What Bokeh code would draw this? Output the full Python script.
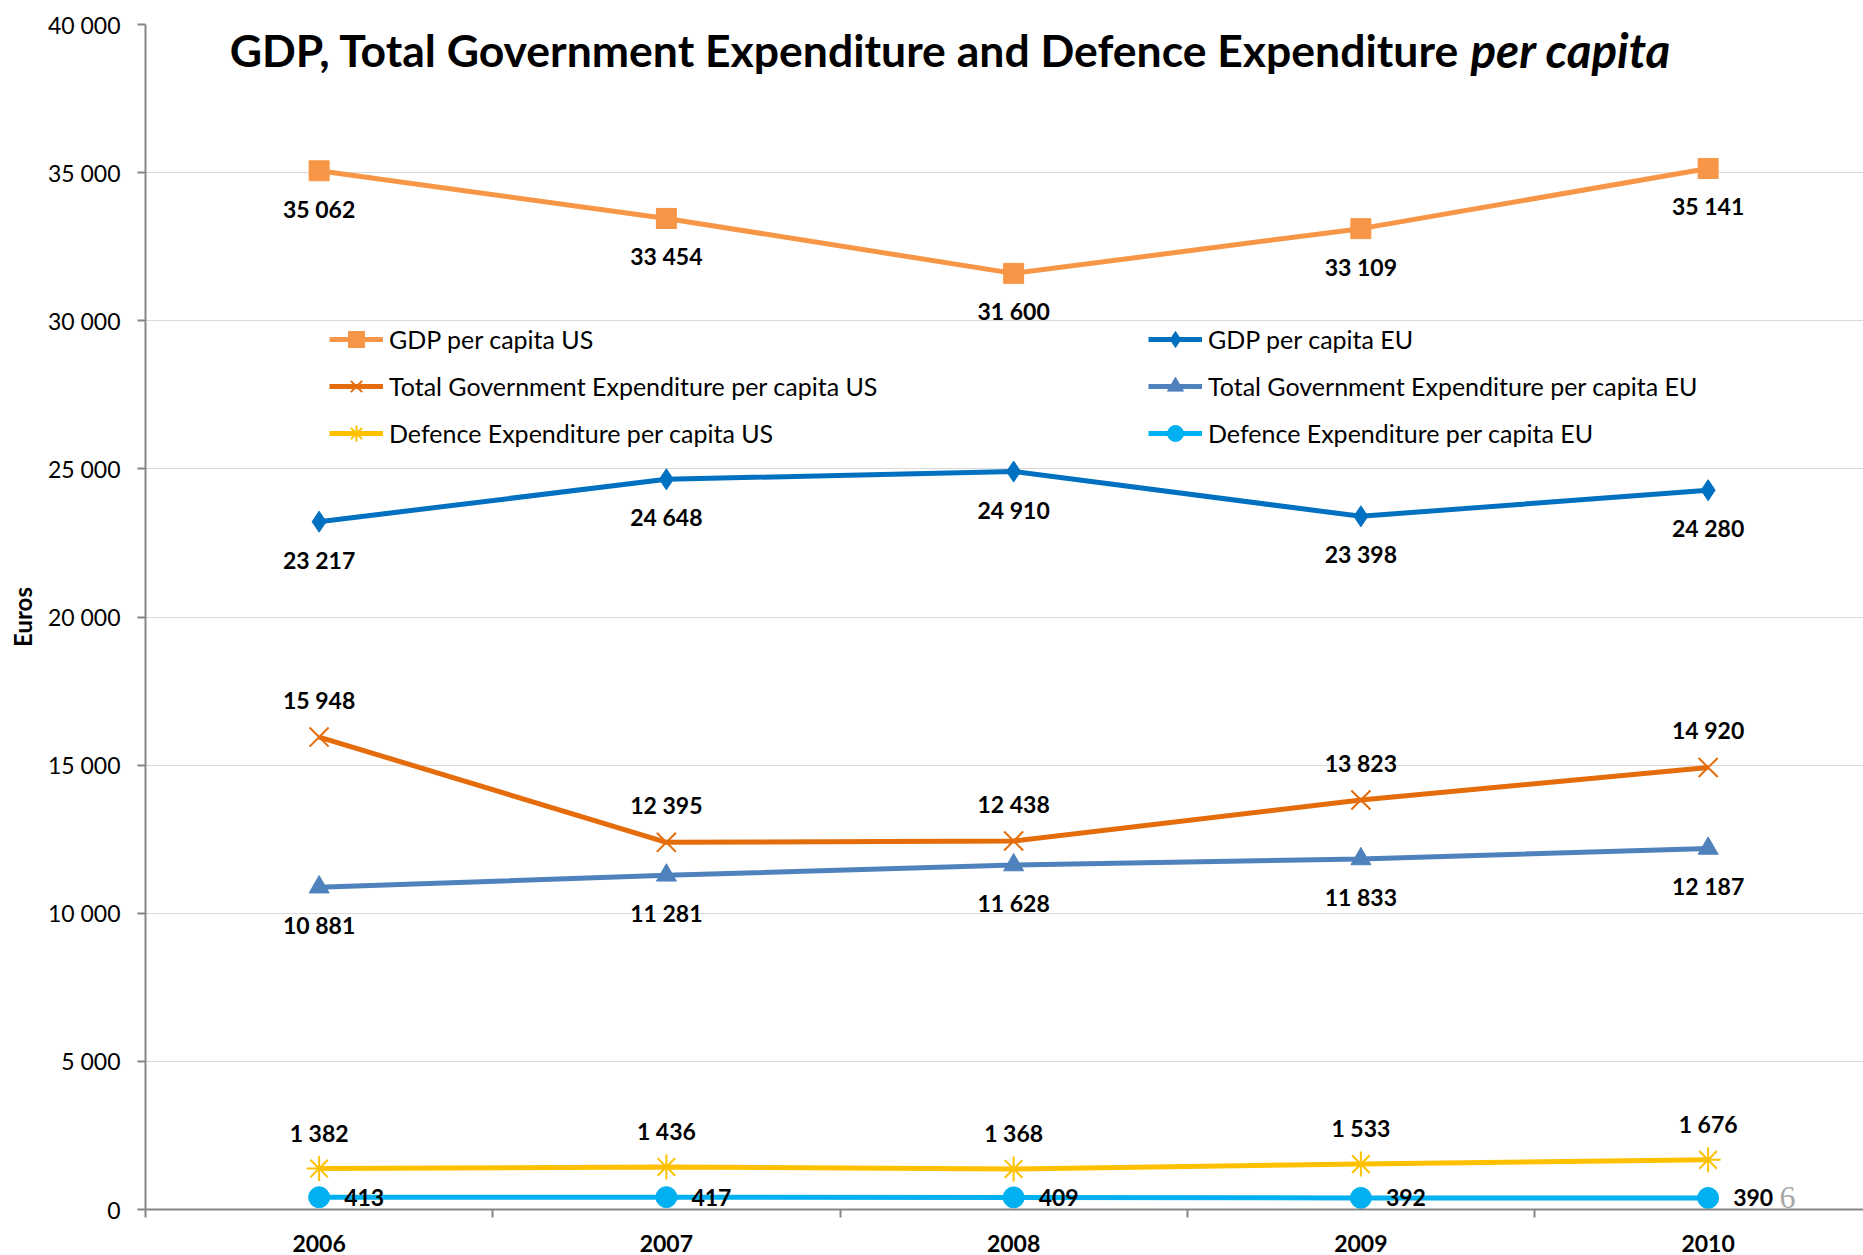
from bokeh.plotting import figure
from bokeh.models import Range1d, FixedTicker, Legend, LegendItem, Label
from bokeh.core.properties import value
from bokeh.embed import file_html
from bokeh.resources import INLINE

# ---------------- data ----------------
years = [2006, 2007, 2008, 2009, 2010]
gdp_us = [35062, 33454, 31600, 33109, 35141]
gdp_eu = [23217, 24648, 24910, 23398, 24280]
tge_us = [15948, 12395, 12438, 13823, 14920]
tge_eu = [10881, 11281, 11628, 11833, 12187]
def_us = [1382, 1436, 1368, 1533, 1676]
def_eu = [413, 417, 409, 392, 390]
y_ticks = [0, 5000, 10000, 15000, 20000, 25000, 30000, 35000, 40000]
y_tick_labels = ["0", "5 000", "10 000", "15 000", "20 000", "25 000", "30 000", "35 000", "40 000"]
x_tick_labels = ["2006", "2007", "2008", "2009", "2010"]
names = ["GDP per capita US", "GDP per capita EU",
         "Total Government Expenditure per capita US", "Total Government Expenditure per capita EU",
         "Defence Expenditure per capita US", "Defence Expenditure per capita EU"]
title_main = "GDP, Total Government Expenditure and Defence Expenditure"
title_ital = "per capita"

FONT = "Lato"
W, H = 1863, 1255
LEFT, TOP, BOTTOM = 145, 24, 46
PX_PER_YEAR = 347.25
x_end = 2005.5 + (W - LEFT) / PX_PER_YEAR

p = figure(width=W, height=H, output_backend="svg", toolbar_location=None,
           x_range=Range1d(2005.5, x_end), y_range=Range1d(0, 40000),
           min_border_left=LEFT, min_border_top=TOP, min_border_bottom=BOTTOM,
           min_border_right=0)
p.outline_line_color = None
p.background_fill_color = "white"
p.border_fill_color = "white"

# grid
p.xgrid.grid_line_color = None
p.ygrid.ticker = FixedTicker(ticks=y_ticks)
p.ygrid.grid_line_color = "#d9d9d9"
p.ygrid.grid_line_width = 1

AX = "#868686"
# y axis
ya = p.yaxis[0]
ya.ticker = FixedTicker(ticks=y_ticks)
ya.major_label_overrides = {t: l for t, l in zip(y_ticks, y_tick_labels)}
ya.axis_line_color = AX
ya.axis_line_width = 2
ya.major_tick_line_color = AX
ya.major_tick_line_width = 2
ya.major_tick_out = 8
ya.major_tick_in = 0
ya.minor_tick_line_color = None
ya.major_label_standoff = 17
ya.major_label_text_font = FONT
ya.major_label_text_font_size = "23px"
ya.major_label_text_color = "black"
ya.axis_label = "Euros"
ya.axis_label_text_font = FONT
ya.axis_label_text_font_style = "bold"
ya.axis_label_text_font_size = "24px"
ya.axis_label_text_color = "black"
ya.axis_label_standoff = 8

# x axis
xa = p.xaxis[0]
xa.ticker = FixedTicker(ticks=years, minor_ticks=[2005.5 + i for i in range(7)])
xa.major_label_overrides = {t: l for t, l in zip(years, x_tick_labels)}
xa.axis_line_color = AX
xa.axis_line_width = 2
xa.major_tick_line_color = None
xa.major_tick_out = 0
xa.major_tick_in = 0
xa.minor_tick_line_color = AX
xa.minor_tick_line_width = 2
xa.minor_tick_out = 8
xa.minor_tick_in = 0
xa.major_label_standoff = 17
xa.major_label_text_font = FONT
xa.major_label_text_font_style = "bold"
xa.major_label_text_font_size = "23px"
xa.major_label_text_color = "black"

# ---------------- series ----------------
series = [
    (gdp_us, "#F79646", "square", 20, 0, 38, "center"),
    (gdp_eu, "#0070C0", "diamond", 21, 0, 38, "center"),
    (tge_us, "#E46C0A", "x", 27, 0, -37, "center"),
    (tge_eu, "#4F81BD", "triangle", 20, 0, 38, "center"),
    (def_us, "#FFC000", "asterisk", 25, 0, -36, "center"),
    (def_eu, "#00B0F0", "circle", 21, 25, 0, "left"),
]

items = []
for (vals, col, mk, sz, dx, dy, al), name in zip(series, names):
    rl = p.line(years, vals, line_color=col, line_width=5)
    if mk in ("x", "asterisk"):
        rm = p.scatter(years, vals, marker=mk, size=sz, line_color=col, line_width=2)
    else:
        rm = p.scatter(years, vals, marker=mk, size=sz, fill_color=col, line_color=col)
    p.text(years, vals, text=[f"{v:,}".replace(",", " ") for v in vals],
           x_offset=dx, y_offset=dy, text_align=al, text_baseline="middle",
           text_font=value(FONT), text_font_style="bold", text_font_size="23px",
           text_color="black")
    items.append(LegendItem(label=name, renderers=[rl, rm]))

def make_legend(its, loc):
    return Legend(items=its, location=loc, background_fill_alpha=0, border_line_color=None,
                  padding=0, margin=0, spacing=7, glyph_width=54, glyph_height=40,
                  label_height=40, label_standoff=6, label_text_font=FONT,
                  label_text_font_size="25px", label_text_color="black",
                  label_text_baseline="middle")

p.add_layout(make_legend(items[0::2], (184, 756)))
p.add_layout(make_legend(items[1::2], (1003, 756)))

# title inside the plot area
p.add_layout(Label(x=1314, y=1160, x_units="screen", y_units="screen", text=title_main,
                   text_align="right", text_baseline="middle", text_font=FONT,
                   text_font_style="bold", text_font_size="44.5px", text_color="black"))
p.add_layout(Label(x=1325, y=1160, x_units="screen", y_units="screen", text=title_ital,
                   text_align="left", text_baseline="middle", text_font=FONT,
                   text_font_style="bold italic", text_font_size="47.5px", text_color="black"))
# slide page number
p.add_layout(Label(x=1642, y=12, x_units="screen", y_units="screen", text="6",
                   text_align="center", text_baseline="middle", text_font="Liberation Serif",
                   text_font_size="32px", text_color="#A6A6A6"))

open("out.html", "w").write(file_html(p, INLINE))
